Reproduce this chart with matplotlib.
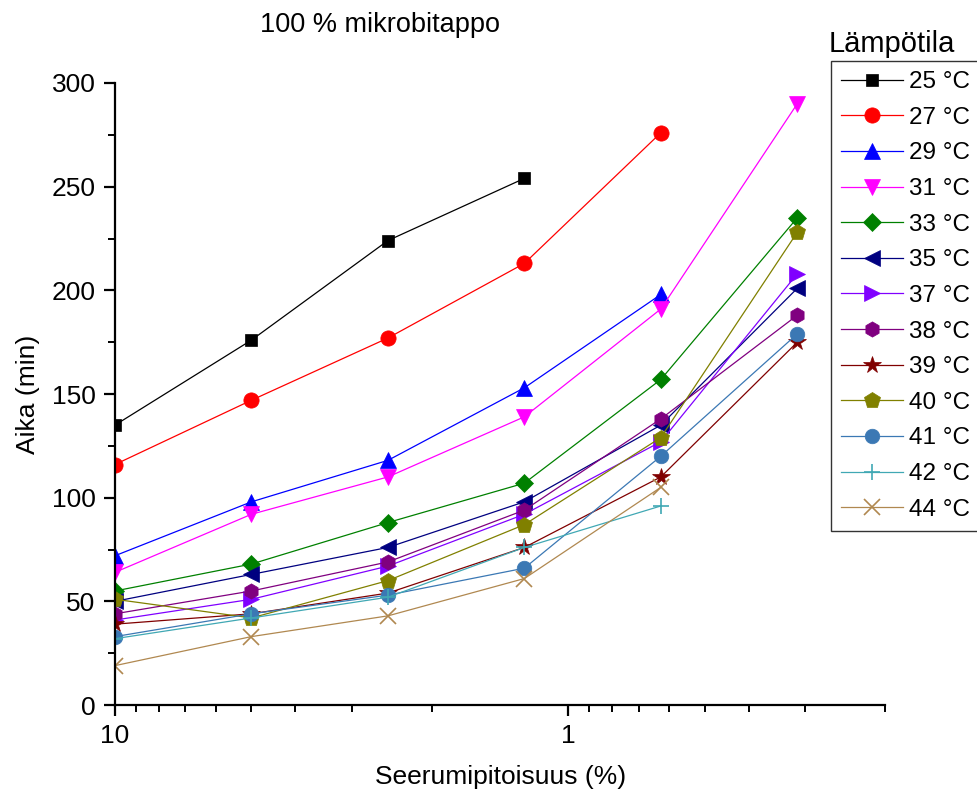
import matplotlib
matplotlib.use("Agg")
import matplotlib.pyplot as plt
import numpy as np
from matplotlib.ticker import FixedLocator, NullFormatter, FixedFormatter, MultipleLocator

plt.rcParams['font.family'] = ['Liberation Sans', 'DejaVu Sans']

# serum concentration (%) and times (min) per temperature
serum = [10, 5, 2.5, 1.25, 0.625, 0.3125]
t25 = [135, 176, 224, 254]
t27 = [116, 147, 177, 213, 276]
t29 = [72, 98, 118, 153, 198]
t31 = [64, 92, 110, 139, 191, 290]
t33 = [55, 68, 88, 107, 157, 235]
t35 = [50, 63, 76, 98, 135, 201]
t37 = [41, 51, 67, 92, 127, 208]
t38 = [44, 55, 69, 94, 138, 188]
t39 = [39, 44, 54, 76, 110, 175]
t40 = [51, 42, 60, 87, 129, 228]
t41 = [33, 44, 53, 66, 120, 179]
t42 = [32, 42, 52, 76, 96]
t44 = [19, 33, 43, 61, 105]

labels = ['25 °C', '27 °C', '29 °C', '31 °C', '33 °C', '35 °C', '37 °C',
          '38 °C', '39 °C', '40 °C', '41 °C', '42 °C', '44 °C']
series = [t25, t27, t29, t31, t33, t35, t37, t38, t39, t40, t41, t42, t44]
colors = ['#000000', '#ff0000', '#0000ff', '#ff00ff', '#008000', '#000080',
          '#8000ff', '#800080', '#800000', '#808000', '#3b78b4', '#40a8b4', '#b08850']
markers = ['s', 'o', '^', 'v', 'D', '<', '>', 'h', '*', 'p', 'o', '+', 'x']
msizes = [9, 11, 12, 12, 9.5, 12, 12, 11, 13, 12, 10.5, 12, 12]

fig = plt.figure(figsize=(9.77, 8.05), dpi=100)
ax = fig.add_axes([0.1177, 0.1242, 0.7883, 0.7727])

handles = []
for y, lab, c, m, ms in zip(series, labels, colors, markers, msizes):
    x = serum[:len(y)]
    h, = ax.plot(x, y, color=c, lw=0.9, marker=m, markersize=ms,
                 markerfacecolor=c, markeredgecolor=c,
                 markeredgewidth=1.2 if m in '+x' else 0.5, label=lab)
    handles.append(h)

ax.set_xscale('log')
ax.set_xlim(10, 0.2)
ax.set_ylim(0, 300)

ax.xaxis.set_major_locator(FixedLocator([10, 1]))
ax.xaxis.set_major_formatter(FixedFormatter(['10', '1']))
ax.xaxis.set_minor_locator(FixedLocator(list(np.arange(2, 10)) + list(np.arange(0.2, 1.0, 0.1))))
ax.xaxis.set_minor_formatter(NullFormatter())
ax.yaxis.set_major_locator(MultipleLocator(50))
ax.yaxis.set_minor_locator(MultipleLocator(25))

for s in ['top', 'right']:
    ax.spines[s].set_visible(False)
for s in ['left', 'bottom']:
    ax.spines[s].set_linewidth(1.6)

ax.tick_params(which='major', direction='out', length=8, width=1.6, labelsize=19, pad=6)
ax.tick_params(which='minor', direction='out', length=5, width=1.4)

ax.set_xlabel('Seerumipitoisuus (%)', fontsize=19, labelpad=12)
ax.set_ylabel('Aika (min)', fontsize=19, labelpad=8)

fig.text(380 / 977, 1 - 25 / 805, '100 % mikrobitappo', fontsize=19.5,
         ha='center', va='center')

# legend frame runs past the right edge of the figure
leg = ax.legend(handles=handles, loc='upper left', bbox_to_anchor=(831 / 977, 1 - 61 / 805),
                bbox_transform=fig.transFigure, fontsize=17.5, frameon=True,
                fancybox=False, edgecolor='black', labelspacing=0.56,
                handlelength=2.55, handletextpad=0.25, borderaxespad=0,
                borderpad=0.42)
leg.get_frame().set_linewidth(1.0)
fig.text(829 / 977, 1 - 58 / 805, 'Lämpötila', fontsize=21, ha='left', va='bottom')

fig.savefig('out.png', dpi=100)
